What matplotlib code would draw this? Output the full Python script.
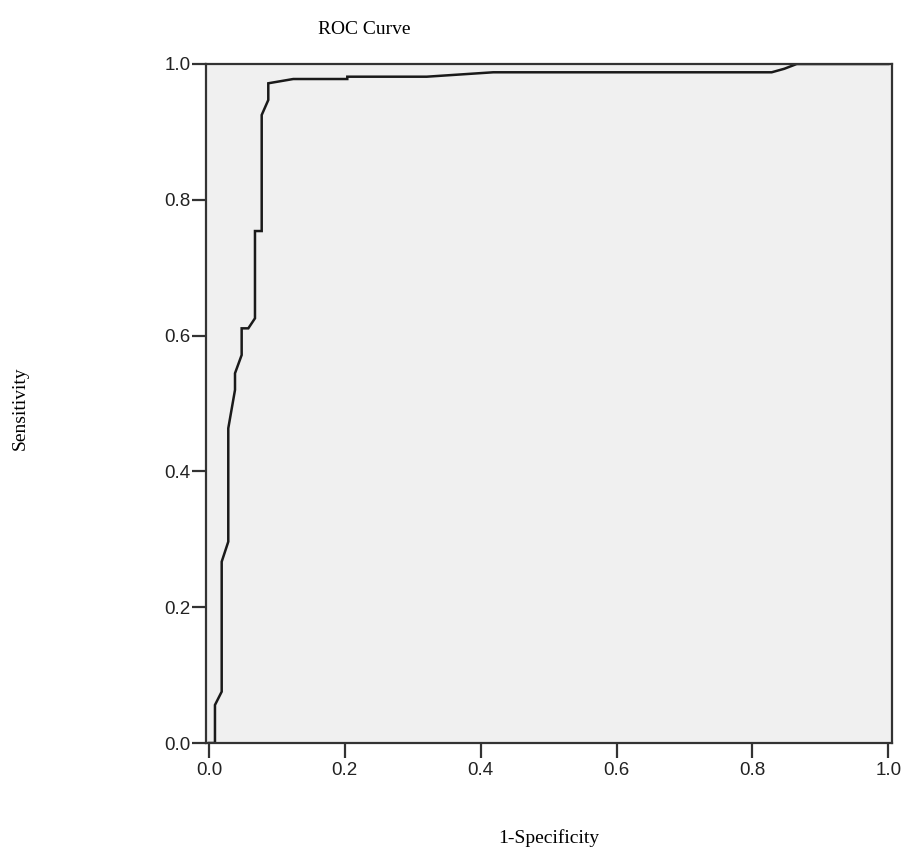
import matplotlib
matplotlib.use("Agg")
import matplotlib.pyplot as plt

# ROC curve points (1-specificity, sensitivity)
fpr = [0.0, 0.0088, 0.0088, 0.0187, 0.0187, 0.0284, 0.0284, 0.0383, 0.0383,
       0.0481, 0.0481, 0.0579, 0.0677, 0.0677, 0.0776, 0.0776, 0.0873, 0.0873,
       0.1241, 0.2036, 0.2036, 0.3205, 0.4185, 0.8284, 0.8470, 0.8652, 1.0]
tpr = [0.0, 0.0, 0.056, 0.0756, 0.267, 0.2965, 0.4635, 0.520, 0.5445,
       0.5714, 0.6107, 0.6107, 0.6255, 0.754, 0.754, 0.9249, 0.947, 0.9716,
       0.9779, 0.9779, 0.9813, 0.9813, 0.9878, 0.9878, 0.9930, 1.0, 1.0]

ticks = [0.0, 0.2, 0.4, 0.6, 0.8, 1.0]
tick_labels = ["0.0", "0.2", "0.4", "0.6", "0.8", "1.0"]

fig = plt.figure(figsize=(9.04, 8.56), dpi=100)
W, H = 904, 856
ax = fig.add_axes([206 / W, 1 - 743 / H, 686 / W, 679 / H])
ax.set_facecolor("#f0f0f0")

ax.plot(fpr, tpr, color="#1a1a1a", linewidth=1.8, solid_joinstyle="miter")

ax.set_xlim(-0.0044, 1.0055)
ax.set_ylim(0.0, 1.0)
ax.set_xticks(ticks)
ax.set_xticklabels(tick_labels, family="Liberation Sans", fontsize=13.5, color="#222222")
ax.set_yticks(ticks)
ax.set_yticklabels(tick_labels, family="Liberation Sans", fontsize=13.5, color="#222222")
ax.tick_params(axis="x", direction="out", length=11, width=1.6, color="#333333", pad=3)
ax.tick_params(axis="y", direction="out", length=10, width=1.6, color="#333333", pad=1)

for s in ax.spines.values():
    s.set_color("#333333")
    s.set_linewidth(1.6)

fig.text(364 / W, 1 - 30 / H, "ROC Curve", family="Liberation Serif",
         fontsize=14, ha="center", va="center")
fig.text(549 / W, 1 - 838 / H, "1-Specificity", family="Liberation Serif",
         fontsize=14, ha="center", va="center")
fig.text(20 / W, 1 - 408 / H, "Sensitivity", family="Liberation Serif",
         fontsize=14, ha="center", va="center", rotation=90)

fig.savefig("out.png", dpi=100)
